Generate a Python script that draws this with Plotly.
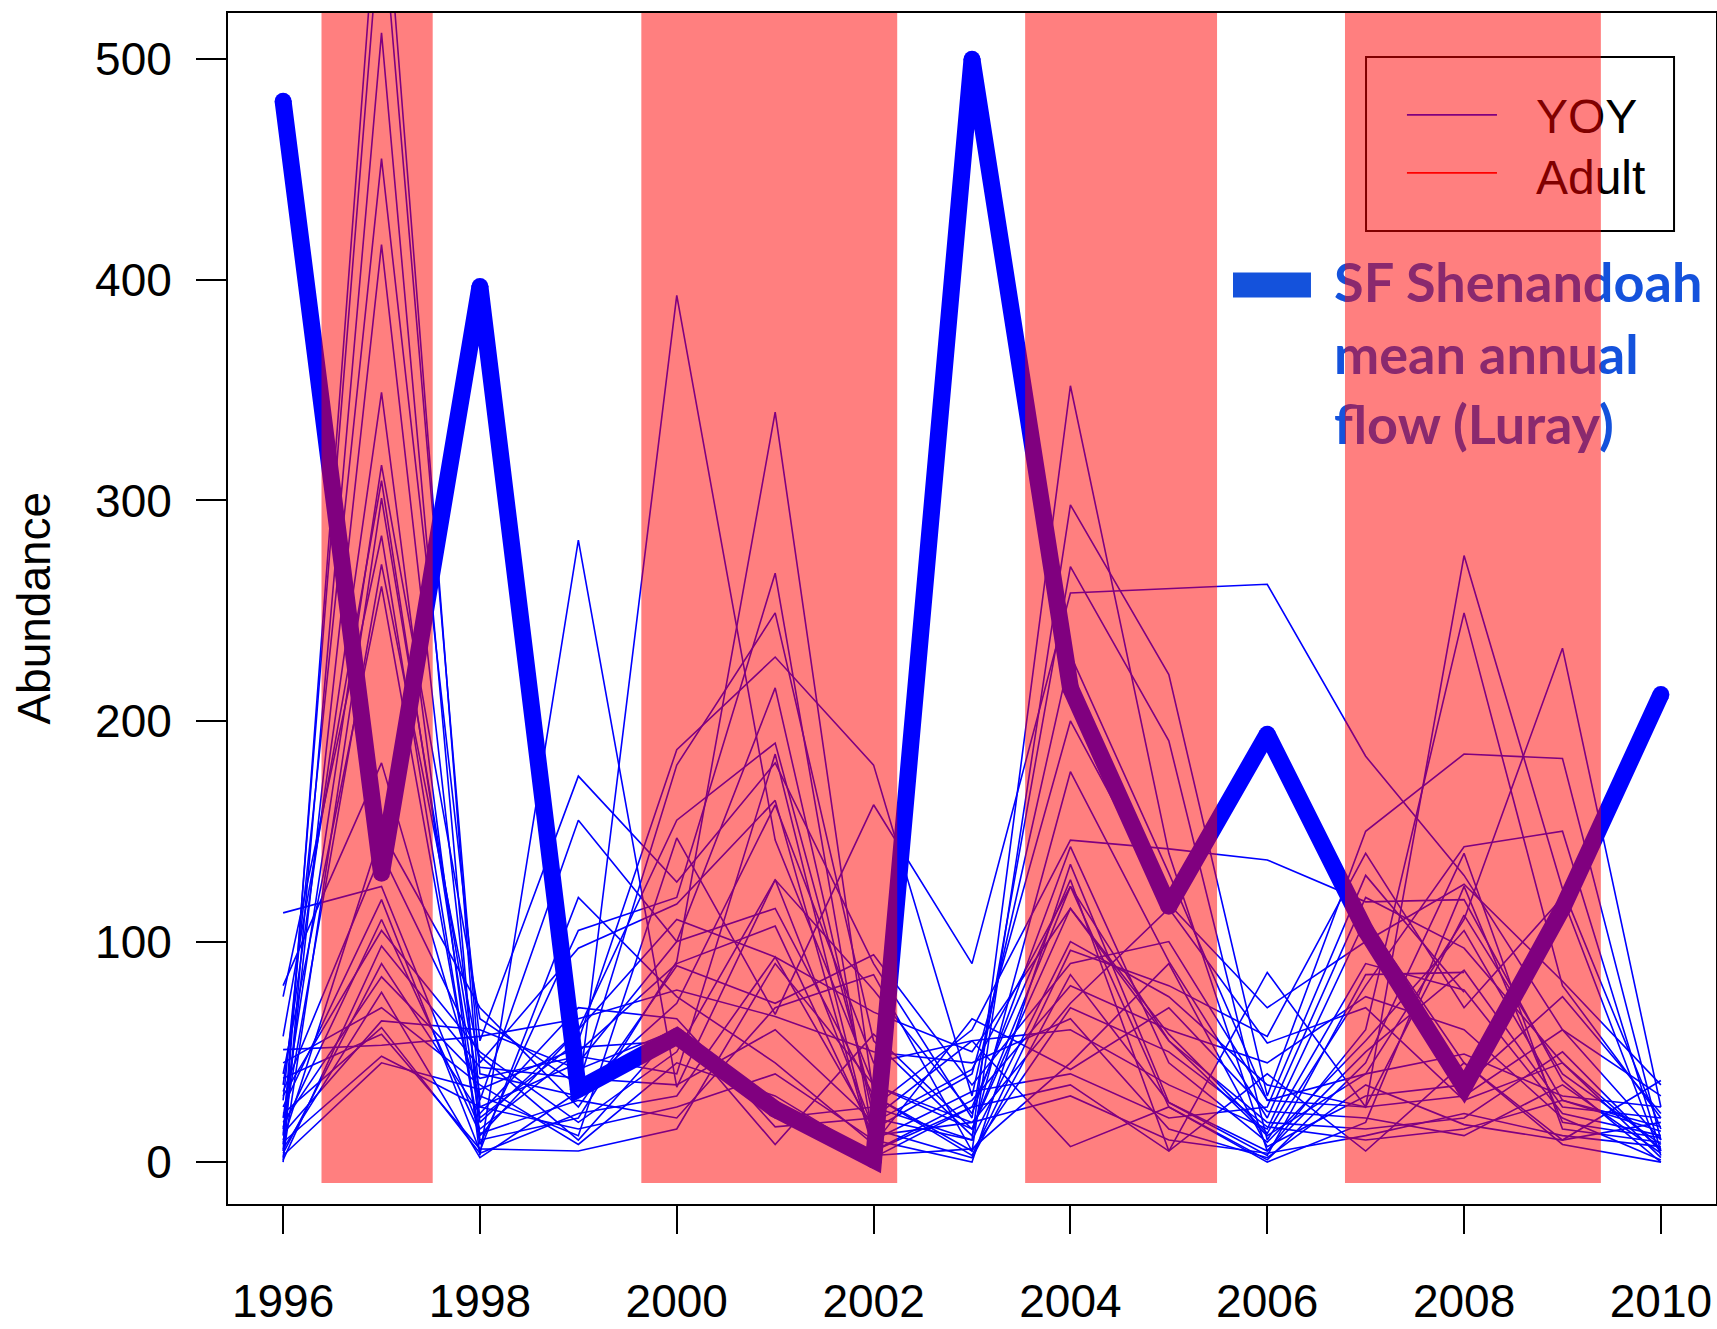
import plotly.graph_objects as go

# ---------------- data ----------------
years = list(range(1996, 2011))

# SF Shenandoah mean annual flow (Luray), scaled to abundance axis
flow_scaled = [481, 131, 397, 33, 57, 24, 1, 500, 215, 116, 194, 105, 34, 115, 212]

# individual site abundance series (1996..2010)
site01 = [5, 600, 25, 45, 100, 215, 20, 10, 352, 140, 5, 60, 249, 80, 20]
site02 = [12, 570, 40, 30, 393, 146, 35, 15, 125, 55, 12, 40, 110, 233, 25]
site03 = [0, 512, 10, 20, 91, 340, 30, 5, 298, 221, 30, 150, 185, 183, 10]
site04 = [28, 455, 55, 175, 127, 181, 90, 20, 270, 191, 10, 80, 143, 150, 5]
site05 = [8, 416, 20, 55, 187, 229, 180, 30, 230, 131, 28, 25, 275, 124, 15]
site06 = [35, 349, 3, 282, 34, 128, 15, 40, 200, 117, 70, 100, 126, 82, 35]
site07 = [20, 316, 65, 35, 180, 249, 55, 12, 177, 91, 20, 120, 97, 45, 2]
site08 = [57, 309, 18, 60, 155, 190, 25, 60, 146, 142, 137, 118, 119, 37, 0]
site09 = [2, 301, 30, 12, 147, 67, 162, 90, 258, 260, 262, 184, 130, 60, 10]
site10 = [75, 284, 8, 105, 120, 267, 10, 0, 135, 27, 5, 50, 87, 25, 20]
site11 = [15, 271, 45, 97, 117, 164, 5, 25, 128, 5, 86, 25, 112, 40, 8]
site12 = [40, 261, 12, 60, 110, 93, 68, 50, 115, 58, 13, 90, 78, 22, 12]
site13 = [80, 181, 28, 155, 100, 115, 30, 3, 96, 80, 57, 140, 70, 120, 3]
site14 = [10, 150, 70, 25, 89, 72, 94, 35, 90, 100, 28, 40, 49, 30, 25]
site15 = [113, 125, 15, 50, 90, 107, 12, 18, 72, 115, 54, 70, 28, 45, 6]
site16 = [51, 53, 57, 65, 78, 66, 50, 45, 65, 15, 2, 35, 17, 10, 37]
site17 = [25, 119, 5, 120, 75, 45, 8, 65, 42, 70, 23, 20, 12, 35, 4]
site18 = [30, 105, 50, 18, 50, 128, 78, 22, 143, 45, 9, 55, 105, 28, 14]
site19 = [4, 90, 22, 70, 65, 16, 20, 55, 7, 25, 1, 45, 140, 15, 9]
site20 = [18, 84, 38, 48, 40, 185, 5, 28, 80, 60, 45, 75, 60, 20, 1]
site21 = [6, 77, 2, 32, 72, 162, 45, 55, 60, 35, 15, 110, 45, 10, 18]
site22 = [45, 70, 35, 8, 45, 30, 3, 6, 45, 90, 7, 30, 35, 75, 22]
site23 = [13, 64, 60, 42, 60, 8, 58, 15, 115, 55, 18, 15, 20, 50, 5]
site24 = [22, 61, 4, 22, 30, 93, 15, 2, 85, 27, 3, 85, 86, None, None]
site25 = [9, 48, 25, 15, 25, 40, 10, 32, 40, 20, 25, 130, 77, None, None]
site26 = [32, 140, 48, 10, 60, 20, 25, 10, 100, 75, 35, 25, 30, 60, 30]
site27 = [16, 110, 13, 28, 20, 70, 85, 5, 70, 50, 16, 10, 15, 28, 16]
site28 = [1, 98, 43, 38, 35, 60, 18, 42, 125, 25, 0, 18, 125, 18, 11]
site29 = [38, 58, 6, 5, 15, 90, 35, 18, 30, 10, 4, 12, 22, 12, 7]
site30 = [3, 45, 33, 52, 55, 25, 2, 25, 35, 5, 40, 5, 45, 8, 0]

sites = [site01, site02, site03, site04, site05, site06, site07, site08, site09, site10,
         site11, site12, site13, site14, site15, site16, site17, site18, site19, site20,
         site21, site22, site23, site24, site25, site26, site27, site28, site29, site30]

# shaded periods (decimal years)
period_start = [1996.39, 1999.64, 2003.54, 2006.79]
period_end = [1997.52, 2002.24, 2005.49, 2009.39]

legend_labels = ["YOY", "Adult"]
flow_label_lines = ["SF Shenandoah", "mean annual", "flow (Luray)"]
x_tick_vals = [1996, 1998, 2000, 2002, 2004, 2006, 2008, 2010]
y_tick_vals = [0, 100, 200, 300, 400, 500]
y_title = "Abundance"

# ---------------- styling / layout constants ----------------
BLUE = "#0000FF"
FLOW_TXT = "rgb(20,82,220)"
TICK_FONT = dict(family="Liberation Sans, Arial, sans-serif", size=46, color="black")

fig = go.Figure()

for s in sites:
    fig.add_trace(go.Scatter(x=years, y=s, mode="lines",
                             line=dict(color=BLUE, width=1.6),
                             hoverinfo="skip", showlegend=False))

fig.add_trace(go.Scatter(x=years, y=flow_scaled, mode="lines+markers",
                         line=dict(color=BLUE, width=17),
                         marker=dict(color=BLUE, size=17),
                         hoverinfo="skip", showlegend=False))

# decoration overlay axes (fractions of the plot area)
leg_line_x = [0.7923, 0.8528]
leg_line_y = [0.9144, 0.8657]
leg_line_colors = [BLUE, "#FF0000"]
for yy, col in zip(leg_line_y, leg_line_colors):
    fig.add_trace(go.Scatter(x=leg_line_x, y=[yy, yy], mode="lines",
                             line=dict(color=col, width=1.8),
                             xaxis="x2", yaxis="y2", hoverinfo="skip", showlegend=False))

fig.add_trace(go.Scatter(x=[0.8790, 0.8790], y=[0.9090, 0.8585], mode="text",
                         text=legend_labels, textposition="middle right",
                         textfont=dict(family="Liberation Sans, Arial, sans-serif", size=48, color="black"),
                         xaxis="x2", yaxis="y2", hoverinfo="skip", showlegend=False))

fig.add_trace(go.Scatter(x=[0.6754, 0.7278], y=[0.7716, 0.7716], mode="lines",
                         line=dict(color=FLOW_TXT, width=25),
                         xaxis="x2", yaxis="y2", hoverinfo="skip", showlegend=False))

fig.add_trace(go.Scatter(x=[0.7433] * 3, y=[0.7691, 0.7084, 0.6494], mode="text",
                         text=flow_label_lines, textposition="middle right",
                         textfont=dict(family="Lato, sans-serif", size=54, color=FLOW_TXT,
                                       weight="bold"),
                         cliponaxis=False,
                         xaxis="x2", yaxis="y2", hoverinfo="skip", showlegend=False))

shapes = [dict(type="rect", xref="paper", yref="paper",
               x0=0.7648, x1=0.9718, y0=0.8170, y1=0.9631,
               line=dict(color="black", width=2), fillcolor="rgba(0,0,0,0)", layer="above")]
for a, b in zip(period_start, period_end):
    shapes.append(dict(type="rect", xref="x", yref="y", x0=a, x1=b, y0=-9.5, y1=521,
                       line=dict(width=0), fillcolor="rgba(255,0,0,0.5)", layer="above"))

fig.update_layout(
    width=1717, height=1329,
    margin=dict(l=228, r=1, t=13, b=125, autoexpand=False),
    paper_bgcolor="white", plot_bgcolor="white",
    showlegend=False,
    shapes=shapes,
    xaxis=dict(range=[1995.44, 2010.56], tickvals=x_tick_vals, ticks="outside",
               ticklen=28, tickwidth=1.5, tickcolor="black",
               showline=True, linecolor="black", linewidth=2, mirror=True,
               showgrid=False, zeroline=False, tickfont=TICK_FONT,
               ticklabelstandoff=28, automargin=False),
    yaxis=dict(range=[-19, 521], tickvals=y_tick_vals, ticks="outside",
               ticklen=30, tickwidth=1.5, tickcolor="black",
               showline=True, linecolor="black", linewidth=2, mirror=True,
               showgrid=False, zeroline=False, tickfont=TICK_FONT,
               ticklabelstandoff=15, automargin=False),
    xaxis2=dict(range=[0, 1], overlaying="x", visible=False, fixedrange=True),
    yaxis2=dict(range=[0, 1], overlaying="y", visible=False, fixedrange=True),
    annotations=[dict(text=y_title, xref="paper", yref="paper", x=-0.131, y=0.5,
                      xanchor="center", yanchor="middle", textangle=-90, showarrow=False,
                      font=dict(family="Liberation Sans, Arial, sans-serif", size=46, color="black"))],
)

fig.write_html("out.html")
